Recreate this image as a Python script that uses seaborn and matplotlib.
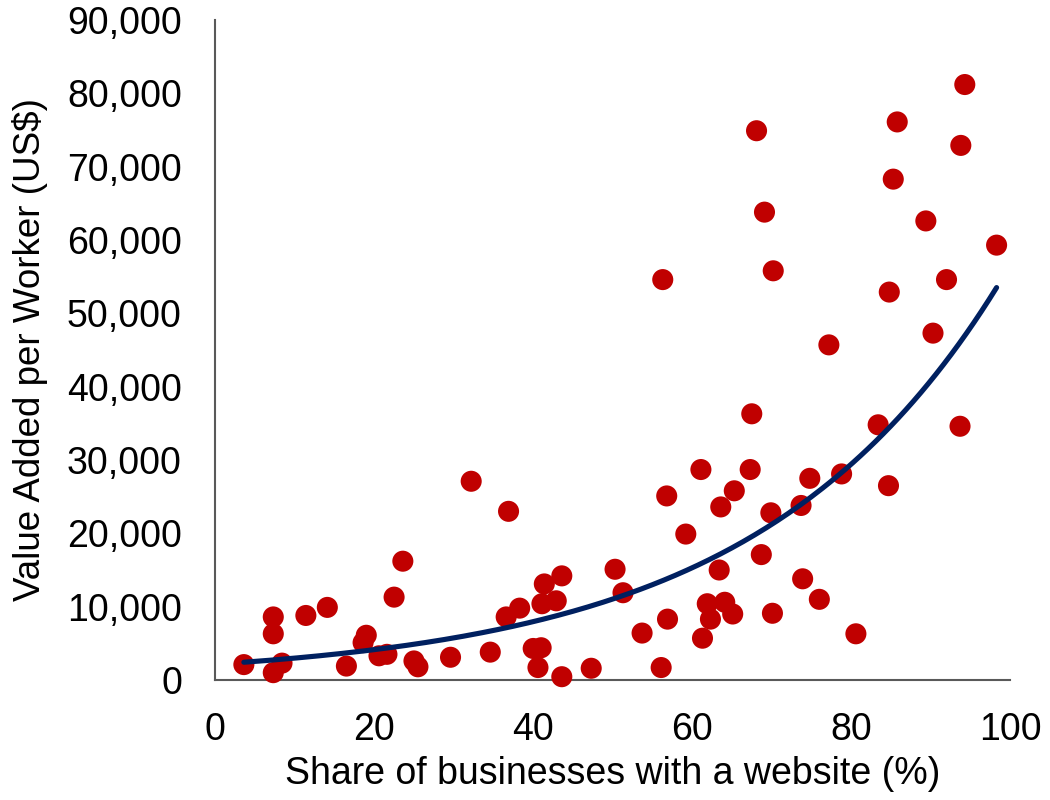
import matplotlib
matplotlib.use("Agg")
import matplotlib.pyplot as plt
import numpy as np
import pandas as pd
import seaborn as sns
from matplotlib.ticker import FuncFormatter

# Datos
share_web = [
    3.6, 7.3, 7.3, 7.3, 8.4, 11.4, 14.1, 16.5, 18.6, 19.0,
    20.6, 21.6, 22.5, 23.6, 25.0, 25.5, 29.6, 32.2, 34.6, 36.9,
    36.6, 38.3, 40.0, 41.0, 40.6, 43.6, 41.1, 42.9, 41.4, 43.6,
    47.3, 50.3, 51.3, 53.7, 56.1, 56.8, 56.9, 59.2, 61.1, 61.3,
    61.9, 62.3, 63.4, 63.6, 64.1, 65.1, 65.3, 67.3, 67.5, 68.7,
    69.9, 70.1, 74.8, 73.7, 78.8, 83.4, 93.7, 84.7, 73.9, 76.0,
    80.6, 56.3, 68.1, 69.1, 70.2, 77.2, 85.8, 94.3, 93.8, 85.3,
    89.4, 98.3, 92.0, 84.8, 90.3,
]
value_added = [
    2100, 1000, 8600, 6300, 2300, 8800, 9900, 1900, 5100, 6100,
    3300, 3500, 11300, 16200, 2600, 1800, 3100, 27100, 3800, 23000,
    8600, 9800, 4300, 4400, 1700, 450, 10400, 10800, 13100, 14200,
    1600, 15100, 11900, 6400, 1700, 25100, 8300, 19900, 28700, 5700,
    10400, 8300, 15000, 23600, 10600, 9000, 25800, 28700, 36300, 17100,
    22800, 9100, 27500, 23800, 28100, 34800, 34600, 26500, 13800, 11000,
    6300, 54600, 74900, 63800, 55800, 45700, 76100, 81200, 72900, 68300,
    62600, 59300, 54600, 52900, 47300,
]

df = pd.DataFrame({"share": share_web, "va": value_added})

# Tendencia exponencial (como en Excel): ajuste lineal sobre log(y)
b, log_a = np.polyfit(df["share"], np.log(df["va"]), 1)
x_fit = np.linspace(min(share_web), max(share_web), 200)
df_fit = pd.DataFrame({"share": x_fit, "va": np.exp(log_a) * np.exp(b * x_fit)})

sns.set_style("white")
plt.rcParams["font.family"] = ["Liberation Sans", "DejaVu Sans"]
plt.rcParams["text.color"] = "black"
plt.rcParams["axes.labelcolor"] = "black"
plt.rcParams["xtick.color"] = "black"
plt.rcParams["ytick.color"] = "black"

fig, ax = plt.subplots(figsize=(10.5, 8), dpi=100)
fig.subplots_adjust(left=0.205, right=0.962, bottom=0.15, top=0.975)

sns.scatterplot(data=df, x="share", y="va", ax=ax, color="#C00000",
                s=230, edgecolor="none", zorder=3, clip_on=False)
sns.lineplot(data=df_fit, x="share", y="va", ax=ax, color="#002060",
             linewidth=3.7, zorder=4)

ax.set_xlim(0, 100)
ax.set_ylim(0, 90000)
ax.set_xticks(range(0, 101, 20))
ax.set_yticks(range(0, 90001, 10000))
ax.yaxis.set_major_formatter(FuncFormatter(lambda v, p: f"{int(v):,}"))
ax.tick_params(axis="both", length=0, labelsize=27, labelcolor="black")
ax.tick_params(axis="y", pad=24)
ax.tick_params(axis="x", pad=23)

ax.set_xlabel("Share of businesses with a website (%)", fontsize=27,
              labelpad=6, color="black")
ax.set_ylabel("Value Added per Worker (US$)", fontsize=26.5,
              labelpad=14, color="black")

for side in ["top", "right"]:
    ax.spines[side].set_visible(False)
for side in ["left", "bottom"]:
    ax.spines[side].set_color("#595959")
    ax.spines[side].set_linewidth(1.5)

plt.savefig("out.png", dpi=100)
